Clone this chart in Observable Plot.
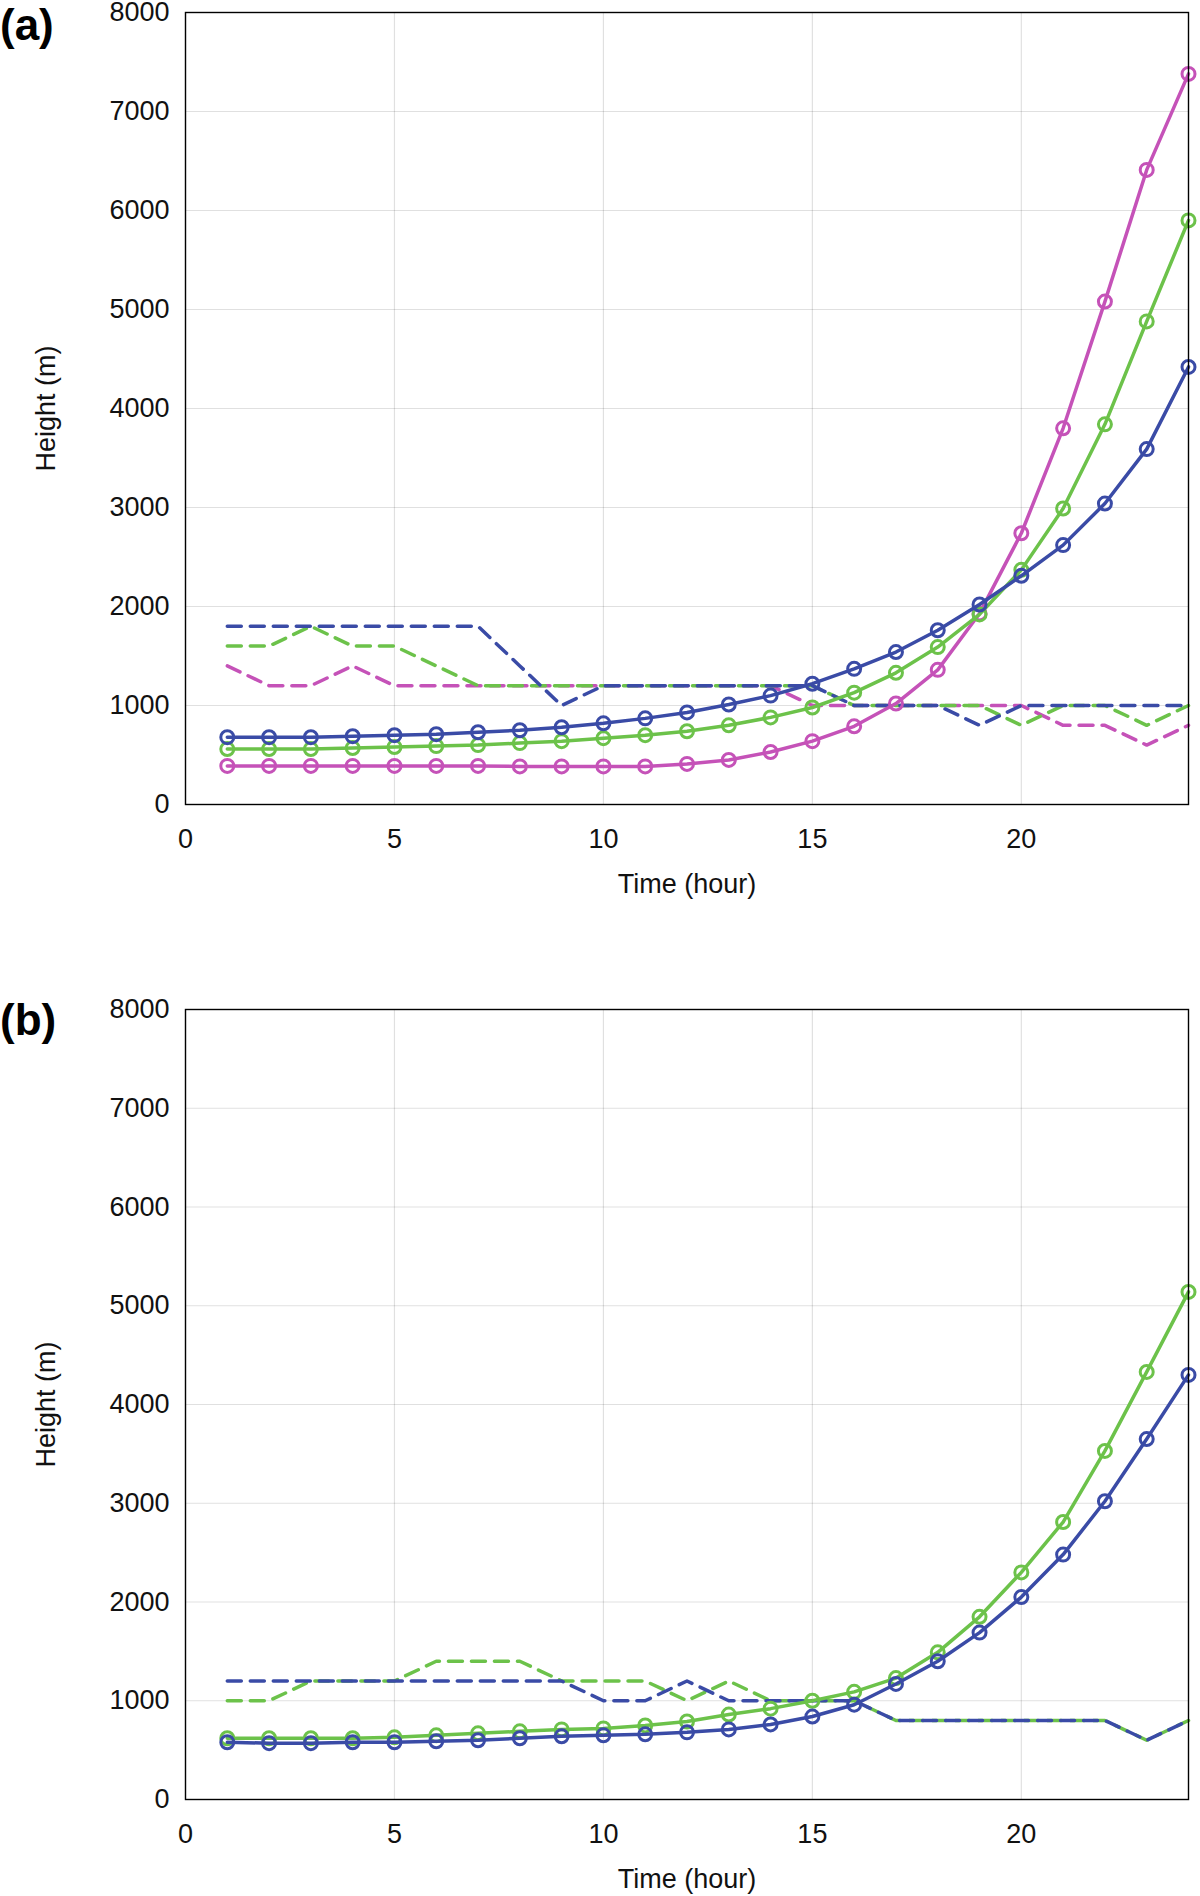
<!DOCTYPE html>
<html><head><meta charset="utf-8">
<script src="https://cdn.jsdelivr.net/npm/d3@7"></script>
<script src="https://cdn.jsdelivr.net/npm/@observablehq/plot@0.6"></script>
<style>
body{margin:0;background:#fff;width:1200px;height:1896px;position:relative;font-family:"Liberation Sans",Arial,sans-serif}
.panel{position:absolute;left:0}
.lab{position:absolute;left:0;font-weight:bold;font-size:44px;line-height:50px}
</style></head><body>
<div class="panel" id="pa" style="top:0"></div>
<div class="panel" id="pb" style="top:997px"></div>
<div class="lab" style="top:0px">(a)</div>
<div class="lab" style="top:995px">(b)</div>
<script>
const hours = d3.range(1,25);
const xTicks = [0,5,10,15,20];
const yTicks = [0,1000,2000,3000,4000,5000,6000,7000,8000];
const colors = {blue:"#3a4ba6", green:"#6cc24a", magenta:"#c552b8"};

// Panel (a)
const aBlueSolid = [680,680,680,690,700,710,730,750,780,820,870,930,1010,1100,1220,1370,1540,1760,2020,2310,2620,3040,3590,4420];
const aGreenSolid = [560,560,560,570,580,590,600,620,640,670,700,740,800,880,980,1130,1330,1590,1920,2370,2990,3840,4880,5900];
const aMagSolid = [390,390,390,390,390,390,390,385,385,385,385,410,450,530,640,790,1020,1360,1930,2740,3800,5080,6410,7380];
const aBlueDash = [1800,1800,1800,1800,1800,1800,1800,1400,1000,1200,1200,1200,1200,1200,1200,1000,1000,1000,800,1000,1000,1000,1000,1000];
const aGreenDash = [1600,1600,1800,1600,1600,1400,1200,1200,1200,1200,1200,1200,1200,1200,1200,1000,1000,1000,1000,800,1000,1000,800,1000];
const aMagDash = [1400,1200,1200,1400,1200,1200,1200,1200,1200,1200,1200,1200,1200,1200,1000,1000,1000,1000,1000,1000,800,800,600,800];

// Panel (b)
const bGreenSolid = [620,620,620,620,630,650,670,690,710,720,750,790,860,920,1000,1090,1230,1490,1850,2300,2810,3530,4330,5140];
const bBlueSolid = [580,570,570,580,580,590,600,620,640,650,660,680,710,760,840,960,1170,1400,1690,2050,2480,3020,3650,4300];
const bBlueDash = [1200,1200,1200,1200,1200,1200,1200,1200,1200,1000,1000,1200,1000,1000,1000,1000,800,800,800,800,800,800,600,800];
const bGreenDash = [1000,1000,1200,1200,1200,1400,1400,1400,1200,1200,1200,1000,1200,1000,1000,1000,800,800,800,800,800,800,600,800];

const rows = arr => hours.map((h,i)=>({h, v:arr[i]}));

function panel(solids, dashes, height, mb){
  const marks = [
    Plot.gridX(xTicks,{stroke:"#000",strokeOpacity:0.12,strokeWidth:1.2}),
    Plot.gridY(yTicks,{stroke:"#000",strokeOpacity:0.12,strokeWidth:1.2}),
  ];
  for (const [arr,c] of dashes) marks.push(Plot.line(rows(arr),{x:"h",y:"v",stroke:colors[c],strokeWidth:3.5,strokeDasharray:"14,9"}));
  for (const [arr,c] of solids){
    marks.push(Plot.line(rows(arr),{x:"h",y:"v",stroke:colors[c],strokeWidth:3.5}));
    marks.push(Plot.dot(rows(arr),{x:"h",y:"v",stroke:colors[c],strokeWidth:3,r:6.5,fill:"none"}));
  }
  marks.push(Plot.frame({stroke:"#000",strokeWidth:1.4}));
  marks.push(Plot.axisX(xTicks,{tickSize:0,tickPadding:24,fontSize:27,tickFormat:d=>String(d),label:"Time (hour)",labelAnchor:"center",labelArrow:"none",labelOffset:88}));
  marks.push(Plot.axisY(yTicks,{tickSize:0,tickPadding:16,fontSize:27,tickFormat:d=>String(d),label:"Height (m)",labelAnchor:"center",labelArrow:"none",labelOffset:150}));
  return Plot.plot({
    width:1200, height, marginLeft:185, marginRight:12, marginTop:12, marginBottom:mb,
    style:{fontFamily:"'Liberation Sans',Arial,sans-serif",fontSize:"27px",color:"#111",overflow:"visible"},
    x:{domain:[0,24]}, y:{domain:[0,8000]},
    marks
  });
}
document.getElementById("pa").append(panel(
  [[aMagSolid,"magenta"],[aGreenSolid,"green"],[aBlueSolid,"blue"]],
  [[aMagDash,"magenta"],[aGreenDash,"green"],[aBlueDash,"blue"]], 920, 116));
document.getElementById("pb").append(panel(
  [[bGreenSolid,"green"],[bBlueSolid,"blue"]],
  [[bGreenDash,"green"],[bBlueDash,"blue"]], 899, 97));
</script></body></html>
